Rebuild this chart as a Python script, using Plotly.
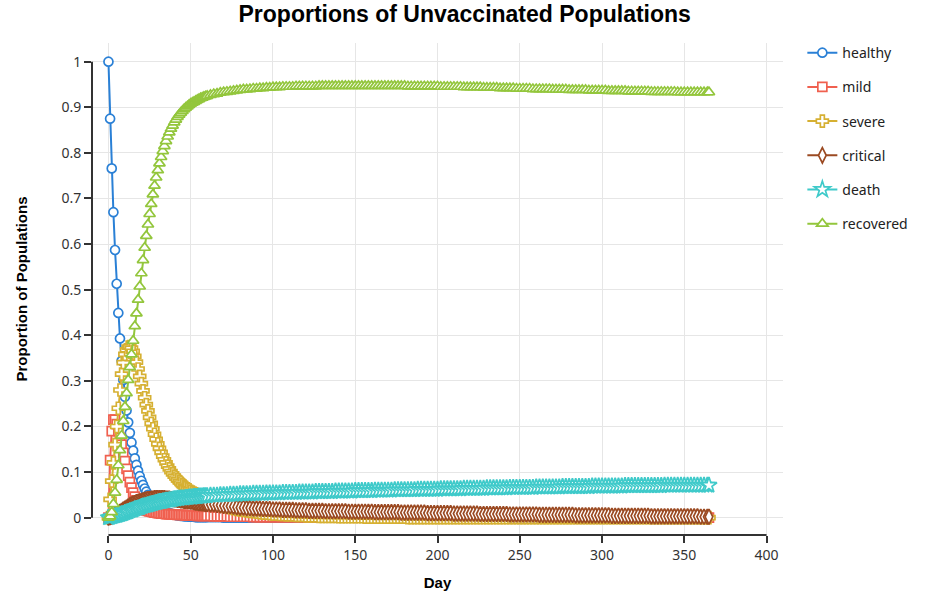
import plotly.graph_objects as go

# days: daily up to day 60, then every second day, plus the last day
days = list(range(0, 61)) + list(range(62, 365, 2)) + [365]

# values: day 0..60, then days 62..364 (step 2) and 365
healthy = [
    1.0, 0.875, 0.766, 0.670, 0.587, 0.513, 0.449, 0.393, 0.344, 0.302,
    0.265, 0.235, 0.209, 0.186, 0.165, 0.147, 0.130, 0.116, 0.103, 0.091,
    0.081, 0.072, 0.064, 0.057, 0.050, 0.044, 0.039, 0.035, 0.031, 0.027,
    0.024, 0.021, 0.019, 0.017, 0.015, 0.013, 0.011, 0.010, 0.009, 0.008,
    0.007, 0.006, 0.005, 0.005, 0.004, 0.004, 0.003, 0.003, 0.003, 0.002,
    0.002, 0.002, 0.002, 0.001, 0.001, 0.001, 0.001, 0.001, 0.001, 0.001,
    0.001,
    0.001, 0.001, 0.001, 0.001, 0.0, 0.0, 0.0, 0.0, 0.0, 0.0,
    0.0, 0.0, 0.0, 0.0, 0.0, 0.0, 0.0, 0.0, 0.0, 0.0,
    0.0, 0.0, 0.0, 0.0, 0.0, 0.0, 0.0, 0.0, 0.0, 0.0,
    0.0, 0.0, 0.0, 0.0, 0.0, 0.0, 0.0, 0.0, 0.0, 0.0,
    0.0, 0.0, 0.0, 0.0, 0.0, 0.0, 0.0, 0.0, 0.0, 0.0,
    0.0, 0.0, 0.0, 0.0, 0.0, 0.0, 0.0, 0.0, 0.0, 0.0,
    0.0, 0.0, 0.0, 0.0, 0.0, 0.0, 0.0, 0.0, 0.0, 0.0,
    0.0, 0.0, 0.0, 0.0, 0.0, 0.0, 0.0, 0.0, 0.0, 0.0,
    0.0, 0.0, 0.0, 0.0, 0.0, 0.0, 0.0, 0.0, 0.0, 0.0,
    0.0, 0.0, 0.0, 0.0, 0.0, 0.0, 0.0, 0.0, 0.0, 0.0,
    0.0, 0.0, 0.0, 0.0, 0.0, 0.0, 0.0, 0.0, 0.0, 0.0,
    0.0, 0.0, 0.0, 0.0, 0.0, 0.0, 0.0, 0.0, 0.0, 0.0,
    0.0, 0.0, 0.0, 0.0, 0.0, 0.0, 0.0, 0.0, 0.0, 0.0,
    0.0, 0.0, 0.0, 0.0, 0.0, 0.0, 0.0, 0.0, 0.0, 0.0,
    0.0, 0.0, 0.0, 0.0, 0.0, 0.0, 0.0, 0.0, 0.0, 0.0,
    0.0, 0.0, 0.0,
]
mild = [
    0.0, 0.126, 0.190, 0.215, 0.215, 0.205, 0.190, 0.175, 0.160, 0.142,
    0.124, 0.107, 0.092, 0.078, 0.066, 0.055, 0.046, 0.038, 0.032, 0.027,
    0.023, 0.020, 0.018, 0.016, 0.015, 0.014, 0.013, 0.012, 0.011, 0.011,
    0.010, 0.010, 0.009, 0.009, 0.009, 0.008, 0.008, 0.008, 0.007, 0.007,
    0.007, 0.007, 0.006, 0.006, 0.006, 0.006, 0.006, 0.005, 0.005, 0.005,
    0.005, 0.005, 0.005, 0.005, 0.004, 0.004, 0.004, 0.004, 0.004, 0.004,
    0.004,
    0.004, 0.003, 0.003, 0.003, 0.003, 0.003, 0.002, 0.002, 0.002, 0.002,
    0.002, 0.002, 0.002, 0.001, 0.001, 0.001, 0.001, 0.001, 0.001, 0.001,
    0.001, 0.001, 0.001, 0.001, 0.001, 0.001, 0.001, 0.001, 0.001, 0.001,
    0.0, 0.0, 0.0, 0.0, 0.0, 0.0, 0.0, 0.0, 0.0, 0.0,
    0.0, 0.0, 0.0, 0.0, 0.0, 0.0, 0.0, 0.0, 0.0, 0.0,
    0.0, 0.0, 0.0, 0.0, 0.0, 0.0, 0.0, 0.0, 0.0, 0.0,
    0.0, 0.0, 0.0, 0.0, 0.0, 0.0, 0.0, 0.0, 0.0, 0.0,
    0.0, 0.0, 0.0, 0.0, 0.0, 0.0, 0.0, 0.0, 0.0, 0.0,
    0.0, 0.0, 0.0, 0.0, 0.0, 0.0, 0.0, 0.0, 0.0, 0.0,
    0.0, 0.0, 0.0, 0.0, 0.0, 0.0, 0.0, 0.0, 0.0, 0.0,
    0.0, 0.0, 0.0, 0.0, 0.0, 0.0, 0.0, 0.0, 0.0, 0.0,
    0.0, 0.0, 0.0, 0.0, 0.0, 0.0, 0.0, 0.0, 0.0, 0.0,
    0.0, 0.0, 0.0, 0.0, 0.0, 0.0, 0.0, 0.0, 0.0, 0.0,
    0.0, 0.0, 0.0, 0.0, 0.0, 0.0, 0.0, 0.0, 0.0, 0.0,
    0.0, 0.0, 0.0, 0.0, 0.0, 0.0, 0.0, 0.0, 0.0, 0.0,
    0.0, 0.0, 0.0,
]
severe = [
    0.0, 0.040, 0.080, 0.120, 0.160, 0.200, 0.240, 0.280, 0.315, 0.340,
    0.358, 0.368, 0.374, 0.375, 0.372, 0.365, 0.354, 0.341, 0.326, 0.310,
    0.294, 0.278, 0.263, 0.248, 0.234, 0.220, 0.207, 0.195, 0.183, 0.172,
    0.162, 0.152, 0.143, 0.135, 0.127, 0.120, 0.113, 0.107, 0.101, 0.096,
    0.091, 0.087, 0.083, 0.079, 0.076, 0.072, 0.069, 0.066, 0.063, 0.061,
    0.058, 0.056, 0.054, 0.052, 0.050, 0.048, 0.046, 0.044, 0.042, 0.040,
    0.038,
    0.035, 0.033, 0.030, 0.028, 0.026, 0.024, 0.022, 0.020, 0.018, 0.017,
    0.016, 0.015, 0.014, 0.013, 0.012, 0.011, 0.010, 0.010, 0.009, 0.008,
    0.008, 0.007, 0.007, 0.006, 0.006, 0.006, 0.005, 0.005, 0.005, 0.004,
    0.004, 0.004, 0.004, 0.003, 0.003, 0.003, 0.003, 0.003, 0.003, 0.002,
    0.002, 0.002, 0.002, 0.002, 0.002, 0.002, 0.002, 0.001, 0.001, 0.001,
    0.001, 0.001, 0.001, 0.001, 0.001, 0.001, 0.001, 0.001, 0.001, 0.001,
    0.0, 0.0, 0.0, 0.0, 0.0, 0.0, 0.0, 0.0, 0.0, 0.0,
    0.0, 0.0, 0.0, 0.0, 0.0, 0.0, 0.0, 0.0, 0.0, 0.0,
    0.0, 0.0, 0.0, 0.0, 0.0, 0.0, 0.0, 0.0, 0.0, 0.0,
    0.0, 0.0, 0.0, 0.0, 0.0, 0.0, 0.0, 0.0, 0.0, 0.0,
    0.0, 0.0, 0.0, 0.0, 0.0, 0.0, 0.0, 0.0, 0.0, 0.0,
    0.0, 0.0, 0.0, 0.0, 0.0, 0.0, 0.0, 0.0, 0.0, 0.0,
    0.0, 0.0, 0.0, 0.0, 0.0, 0.0, 0.0, 0.0, 0.0, 0.0,
    0.0, 0.0, 0.0, 0.0, 0.0, 0.0, 0.0, 0.0, 0.0, 0.0,
    0.0, 0.0, 0.0, 0.0, 0.0, 0.0, 0.0, 0.0, 0.0, 0.0,
    0.0, 0.0, 0.0,
]
critical = [
    0.0, 0.001, 0.002, 0.004, 0.006, 0.008, 0.010, 0.013, 0.015, 0.018,
    0.020, 0.022, 0.025, 0.027, 0.029, 0.031, 0.032, 0.034, 0.035, 0.036,
    0.037, 0.038, 0.039, 0.040, 0.041, 0.041, 0.042, 0.042, 0.043, 0.043,
    0.043, 0.043, 0.043, 0.043, 0.043, 0.042, 0.042, 0.042, 0.041, 0.041,
    0.040, 0.040, 0.039, 0.039, 0.038, 0.038, 0.037, 0.037, 0.036, 0.036,
    0.035, 0.035, 0.034, 0.033, 0.033, 0.032, 0.032, 0.031, 0.031, 0.030,
    0.030,
    0.029, 0.029, 0.028, 0.027, 0.026, 0.025, 0.025, 0.024, 0.023, 0.022,
    0.022, 0.021, 0.021, 0.020, 0.020, 0.020, 0.019, 0.019, 0.019, 0.018,
    0.018, 0.018, 0.017, 0.017, 0.017, 0.017, 0.016, 0.016, 0.016, 0.016,
    0.015, 0.015, 0.015, 0.015, 0.015, 0.014, 0.014, 0.014, 0.014, 0.014,
    0.014, 0.014, 0.013, 0.013, 0.013, 0.013, 0.013, 0.013, 0.013, 0.013,
    0.012, 0.012, 0.012, 0.012, 0.012, 0.012, 0.012, 0.012, 0.011, 0.011,
    0.011, 0.011, 0.011, 0.011, 0.011, 0.011, 0.010, 0.010, 0.010, 0.010,
    0.010, 0.010, 0.010, 0.010, 0.009, 0.009, 0.009, 0.009, 0.009, 0.009,
    0.009, 0.009, 0.008, 0.008, 0.008, 0.008, 0.008, 0.008, 0.008, 0.008,
    0.008, 0.007, 0.007, 0.007, 0.007, 0.007, 0.007, 0.007, 0.007, 0.007,
    0.006, 0.006, 0.006, 0.006, 0.006, 0.006, 0.006, 0.006, 0.006, 0.006,
    0.006, 0.005, 0.005, 0.005, 0.005, 0.005, 0.005, 0.005, 0.005, 0.005,
    0.005, 0.005, 0.004, 0.004, 0.004, 0.004, 0.004, 0.004, 0.004, 0.004,
    0.004, 0.004, 0.004, 0.004, 0.003, 0.003, 0.003, 0.003, 0.003, 0.003,
    0.003, 0.003, 0.003, 0.003, 0.003, 0.003, 0.003, 0.003, 0.003, 0.002,
    0.002, 0.002, 0.002,
]
death = [
    0.0, 0.001, 0.002, 0.003, 0.004, 0.005, 0.006, 0.007, 0.008, 0.009,
    0.011, 0.012, 0.013, 0.015, 0.016, 0.017, 0.019, 0.020, 0.021, 0.022,
    0.024, 0.025, 0.026, 0.027, 0.028, 0.029, 0.030, 0.031, 0.032, 0.033,
    0.034, 0.035, 0.035, 0.036, 0.037, 0.038, 0.038, 0.039, 0.039, 0.040,
    0.041, 0.041, 0.042, 0.042, 0.043, 0.043, 0.043, 0.044, 0.044, 0.045,
    0.045, 0.045, 0.046, 0.046, 0.046, 0.047, 0.047, 0.047, 0.048, 0.048,
    0.048,
    0.049, 0.049, 0.049, 0.050, 0.050, 0.050, 0.051, 0.051, 0.051, 0.052,
    0.052, 0.052, 0.052, 0.053, 0.053, 0.053, 0.053, 0.054, 0.054, 0.054,
    0.054, 0.054, 0.055, 0.055, 0.055, 0.055, 0.055, 0.056, 0.056, 0.056,
    0.056, 0.056, 0.057, 0.057, 0.057, 0.057, 0.057, 0.057, 0.058, 0.058,
    0.058, 0.058, 0.058, 0.058, 0.059, 0.059, 0.059, 0.059, 0.059, 0.059,
    0.060, 0.060, 0.060, 0.060, 0.060, 0.060, 0.061, 0.061, 0.061, 0.061,
    0.061, 0.061, 0.061, 0.062, 0.062, 0.062, 0.062, 0.062, 0.062, 0.062,
    0.063, 0.063, 0.063, 0.063, 0.063, 0.063, 0.063, 0.064, 0.064, 0.064,
    0.064, 0.064, 0.064, 0.064, 0.065, 0.065, 0.065, 0.065, 0.065, 0.065,
    0.065, 0.066, 0.066, 0.066, 0.066, 0.066, 0.066, 0.066, 0.066, 0.067,
    0.067, 0.067, 0.067, 0.067, 0.067, 0.067, 0.067, 0.068, 0.068, 0.068,
    0.068, 0.068, 0.068, 0.068, 0.068, 0.068, 0.069, 0.069, 0.069, 0.069,
    0.069, 0.069, 0.069, 0.069, 0.069, 0.069, 0.070, 0.070, 0.070, 0.070,
    0.070, 0.070, 0.070, 0.070, 0.070, 0.070, 0.070, 0.070, 0.071, 0.071,
    0.071, 0.071, 0.071, 0.071, 0.071, 0.071, 0.071, 0.071, 0.071, 0.071,
    0.071, 0.071, 0.071,
]
recovered = [
    0.0, 0.003, 0.012, 0.030, 0.055, 0.083, 0.115, 0.148, 0.180, 0.212,
    0.243, 0.273, 0.302, 0.330, 0.358, 0.388, 0.420, 0.448, 0.478, 0.507,
    0.536, 0.565, 0.592, 0.618, 0.643, 0.666, 0.688, 0.709, 0.728, 0.746,
    0.762, 0.777, 0.791, 0.804, 0.815, 0.826, 0.836, 0.845, 0.853, 0.860,
    0.867, 0.873, 0.879, 0.884, 0.888, 0.892, 0.896, 0.899, 0.902, 0.905,
    0.908, 0.910, 0.912, 0.914, 0.916, 0.918, 0.920, 0.921, 0.923, 0.924,
    0.925,
    0.927, 0.929, 0.930, 0.932, 0.933, 0.934, 0.935, 0.936, 0.937, 0.938,
    0.939, 0.939, 0.940, 0.941, 0.941, 0.942, 0.942, 0.943, 0.943, 0.944,
    0.944, 0.944, 0.945, 0.945, 0.945, 0.945, 0.946, 0.946, 0.946, 0.946,
    0.946, 0.946, 0.946, 0.947, 0.947, 0.947, 0.947, 0.947, 0.947, 0.947,
    0.947, 0.947, 0.947, 0.947, 0.947, 0.947, 0.947, 0.947, 0.947, 0.947,
    0.947, 0.947, 0.947, 0.947, 0.947, 0.947, 0.947, 0.947, 0.947, 0.947,
    0.946, 0.946, 0.946, 0.946, 0.946, 0.946, 0.946, 0.946, 0.946, 0.946,
    0.945, 0.945, 0.945, 0.945, 0.945, 0.945, 0.945, 0.944, 0.944, 0.944,
    0.944, 0.944, 0.944, 0.943, 0.943, 0.943, 0.943, 0.943, 0.942, 0.942,
    0.942, 0.942, 0.942, 0.941, 0.941, 0.941, 0.941, 0.941, 0.940, 0.940,
    0.940, 0.940, 0.940, 0.940, 0.939, 0.939, 0.939, 0.939, 0.939, 0.938,
    0.938, 0.938, 0.938, 0.938, 0.938, 0.937, 0.937, 0.937, 0.937, 0.937,
    0.937, 0.936, 0.936, 0.936, 0.936, 0.936, 0.936, 0.935, 0.935, 0.935,
    0.935, 0.935, 0.935, 0.935, 0.934, 0.934, 0.934, 0.934, 0.934, 0.934,
    0.934, 0.934, 0.933, 0.933, 0.933, 0.933, 0.933, 0.933, 0.933, 0.933,
    0.933, 0.933, 0.933,
]

series = [
    ("healthy", healthy, "#2a80d6", "circle", 9),
    ("mild", mild, "#f0604f", "square", 9),
    ("severe", severe, "#d6b032", "cross", 10),
    ("critical", critical, "#9b4a22", "diamond-tall", 11),
    ("death", death, "#3fcaca", "star", 12),
    ("recovered", recovered, "#93c63c", "triangle-up", 10),
]

fig = go.Figure()
for i, (name, vals, color, symbol, size) in enumerate(series):
    fig.add_trace(
        go.Scatter(
            x=days,
            y=vals,
            name=name,
            mode="lines+markers",
            line=dict(color=color, width=2),
            marker=dict(
                symbol=symbol,
                size=size,
                color="white",
                line=dict(color=color, width=1.7),
            ),
            legendgroup="g%d" % i,
        )
    )

tick_font = dict(family="Noto Sans, Open Sans, sans-serif", size=14, color="#333333")
title_font = dict(family="Liberation Sans, Arial, sans-serif", size=15, color="#000000")

fig.update_layout(
    width=935,
    height=594,
    margin=dict(l=92, r=152, t=43, b=59),
    paper_bgcolor="white",
    plot_bgcolor="white",
    title=dict(
        text="<b>Proportions of Unvaccinated Populations</b>",
        x=0.497,
        xanchor="center",
        xref="container",
        y=0.976,
        yanchor="middle",
        yref="container",
        font=dict(family="Liberation Sans, Arial, sans-serif", size=23, color="#000000"),
    ),
    legend=dict(
        x=1.028,
        y=1.012,
        xanchor="left",
        yanchor="top",
        font=dict(family="Noto Sans, Open Sans, sans-serif", size=14, color="#222222"),
        tracegroupgap=13,
        bgcolor="rgba(0,0,0,0)",
    ),
    showlegend=True,
)

fig.update_xaxes(
    range=[-10, 410],
    tickvals=[0, 50, 100, 150, 200, 250, 300, 350, 400],
    ticks="outside",
    ticklen=7,
    tickcolor="#333333",
    tickwidth=1.5,
    showline=False,
    zeroline=False,
    showgrid=True,
    gridcolor="#e6e6e6",
    gridwidth=1,
    tickfont=tick_font,
    automargin=False,
    title=dict(text="<b>Day</b>", font=title_font, standoff=14),
)
fig.update_yaxes(
    range=[-0.038, 1.041],
    tickvals=[0, 0.1, 0.2, 0.3, 0.4, 0.5, 0.6, 0.7, 0.8, 0.9, 1],
    ticktext=["0", "0.1", "0.2", "0.3", "0.4", "0.5", "0.6", "0.7", "0.8", "0.9", "1"],
    ticks="outside",
    ticklen=7,
    tickcolor="#333333",
    tickwidth=1.5,
    showline=False,
    zeroline=False,
    showgrid=True,
    gridcolor="#e6e6e6",
    gridwidth=1,
    tickfont=tick_font,
    automargin=False,
    title=dict(text="<b>Proportion of Populations</b>", font=title_font, standoff=30),
)

# axis lines only span the tick range, like the original
fig.add_shape(type="line", xref="x", yref="paper", x0=0, x1=400, y0=0, y1=0,
              line=dict(color="#333333", width=2), layer="above")
fig.add_shape(type="line", xref="paper", yref="y", x0=0, x1=0, y0=0, y1=1,
              line=dict(color="#333333", width=2), layer="above")

# drop the default page margin so the figure sits at the window's corner
fig.write_html(
    "out.html",
    config={"displayModeBar": False},
    post_script="document.body.style.margin='0px';",
)
